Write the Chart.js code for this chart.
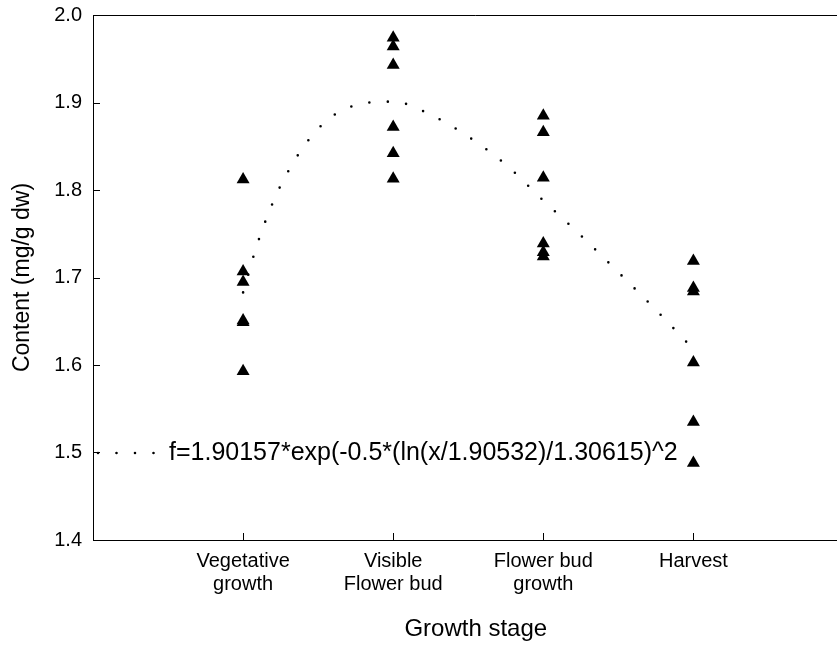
<!DOCTYPE html>
<html>
<head>
<meta charset="utf-8">
<script src="https://cdn.jsdelivr.net/npm/chart.js@4.4.1/dist/chart.umd.min.js"></script>
<style>
  html, body { margin: 0; padding: 0; background: #fff; overflow: hidden; }
  #wrap { width: 837px; height: 648px; overflow: hidden; }
</style>
</head>
<body>
<div id="wrap"><canvas id="c" width="866" height="648"></canvas></div>
<script>
// growth stages and their position on the x axis
const stageLabels = [['Vegetative', 'growth'], ['Visible', 'Flower bud'], ['Flower bud', 'growth'], ['Harvest']];
const stagePos = [1, 2, 3, 4];

// measured contents (mg/g dw) per stage
const vegetative = [1.812, 1.707, 1.695, 1.651, 1.649, 1.593];
const visibleBud = [1.974, 1.964, 1.943, 1.872, 1.842, 1.813];
const budGrowth = [1.885, 1.866, 1.814, 1.739, 1.729, 1.724];
const harvest = [1.719, 1.688, 1.684, 1.603, 1.535, 1.488];

// fitted curve
const fitX = [1.0, 1.1, 1.25, 1.5, 1.75, 2.0, 2.25, 2.5, 2.75, 3.0, 3.25, 3.5, 3.75, 4.0];
const fitY = [1.683, 1.741, 1.805, 1.870, 1.897, 1.901, 1.886, 1.861, 1.829, 1.788, 1.748, 1.706, 1.663, 1.618];

const yTicks = [1.4, 1.5, 1.6, 1.7, 1.8, 1.9, 2.0];
const fitLabel = 'f=1.90157*exp(-0.5*(ln(x/1.90532)/1.30615)^2';

const FONT = '"Liberation Sans", Arial, Helvetica, sans-serif';
const DOTS = [0, 18.5];

const groups = [vegetative, visibleBud, budGrowth, harvest];
const points = [];
groups.forEach((vals, i) => vals.forEach(v => points.push({ x: stagePos[i], y: v })));
const fitPoints = fitX.map((x, i) => ({ x, y: fitY[i] }));

// frame top, inward tick marks and the fit legend
const extras = {
  id: 'extras',
  afterDraw(chart) {
    const { ctx, chartArea: a, scales } = chart;
    ctx.save();
    ctx.strokeStyle = '#000';
    ctx.lineWidth = 1;
    ctx.beginPath();
    ctx.moveTo(a.left, a.top + 0.5);
    ctx.lineTo(a.right, a.top + 0.5);
    yTicks.forEach(v => {
      const py = Math.round(scales.y.getPixelForValue(v)) + 0.5;
      ctx.moveTo(a.left, py);
      ctx.lineTo(a.left + 7, py);
    });
    stagePos.forEach(v => {
      const px = Math.round(scales.x.getPixelForValue(v)) + 0.5;
      ctx.moveTo(px, a.bottom);
      ctx.lineTo(px, a.bottom - 7);
    });
    ctx.stroke();

    const ly = a.top + 438;
    ctx.beginPath();
    ctx.setLineDash(DOTS);
    ctx.lineCap = 'round';
    ctx.lineWidth = 2.6;
    ctx.moveTo(a.left + 5, ly);
    ctx.lineTo(a.left + 63, ly);
    ctx.stroke();
    ctx.setLineDash([]);
    ctx.fillStyle = '#000';
    ctx.font = '25px ' + FONT;
    ctx.textBaseline = 'middle';
    ctx.fillText(fitLabel, a.left + 76, ly);
    ctx.restore();
  }
};

new Chart(document.getElementById('c'), {
  type: 'scatter',
  data: {
    datasets: [
      { label: 'data', data: points, pointStyle: 'triangle', pointRadius: 7.5, pointBackgroundColor: '#000', pointBorderWidth: 0, showLine: false },
      { label: 'fit', type: 'line', data: fitPoints, showLine: true, pointRadius: 0, borderColor: '#000', borderWidth: 2.6,
        borderDash: DOTS, borderCapStyle: 'round', cubicInterpolationMode: 'monotone', fill: false }
    ]
  },
  plugins: [extras],
  options: {
    responsive: false,
    animation: false,
    devicePixelRatio: 1,
    layout: { padding: { top: 15, right: 0, bottom: 0, left: 0 } },
    plugins: { legend: { display: false }, tooltip: { enabled: false } },
    scales: {
      x: {
        // the frame runs past the right edge of the picture
        type: 'linear', min: 0, max: 5.1,
        afterBuildTicks: s => { s.ticks = stagePos.map(v => ({ value: v })); },
        afterFit: s => { s.height = 108; s.paddingLeft = 0; s.paddingRight = 0; },
        grid: { display: false, drawTicks: false },
        border: { display: true, color: '#000', width: 1 },
        ticks: { color: '#000', padding: 10, maxRotation: 0, autoSkip: false,
          font: { family: FONT, size: 20, lineHeight: 1.15 },
          callback: v => stageLabels[stagePos.indexOf(v)] || '' },
        title: { display: true, text: 'Growth stage', color: '#000', font: { family: FONT, size: 24, lineHeight: 1.2 }, padding: { top: 0, bottom: 4 } }
      },
      y: {
        min: 1.4, max: 2.0,
        afterBuildTicks: s => { s.ticks = yTicks.map(v => ({ value: v })); },
        afterFit: s => { s.width = 93; s.paddingTop = 0; s.paddingBottom = 0; },
        grid: { display: false, drawTicks: false },
        border: { display: true, color: '#000', width: 1 },
        ticks: { color: '#000', padding: 11, font: { family: FONT, size: 20 }, callback: v => v.toFixed(1) },
        title: { display: true, text: 'Content (mg/g dw)', color: '#000', font: { family: FONT, size: 23, lineHeight: 1.2 }, padding: { top: 9, bottom: 0 } }
      }
    }
  }
});
</script>
</body>
</html>
